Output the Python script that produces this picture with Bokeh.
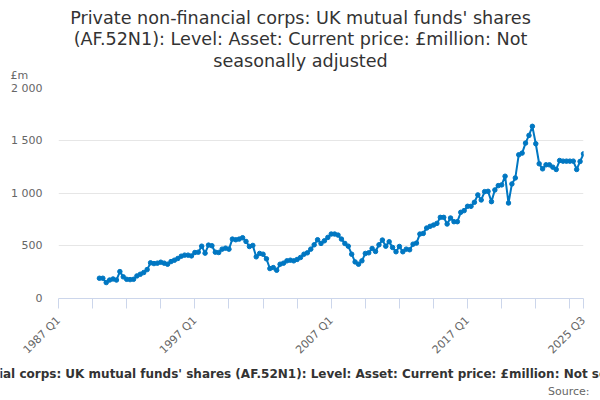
from bokeh.plotting import figure
from bokeh.layouts import column
from bokeh.models import Range1d, FixedTicker, Label, ColumnDataSource
from bokeh.embed import file_html
from bokeh.resources import INLINE
from math import pi

# ---- data ----
title_lines = [
    "Private non-financial corps: UK mutual funds' shares",
    "(AF.52N1): Level: Asset: Current price: £million: Not",
    "seasonally adjusted",
]
footer_text = ("Private non-financial corps: UK mutual funds' shares (AF.52N1): "
               "Level: Asset: Current price: £million: Not seasonally adjusted")
source_text = "Source:"
unit_text = "£m"

first_year = 1987
last_label = "2025 Q3"
data_start = "1990 Q1"

values = [
    192, 192, 151, 175, 185, 175, 255, 205, 182, 179, 182, 214, 230, 246, 274, 338,
    331, 335, 344, 335, 325, 350, 363, 379, 401, 411, 411, 404, 436, 439, 496, 430,
    506, 500, 439, 436, 468, 477, 468, 563, 557, 563, 576, 541, 493, 503, 395, 427,
    420, 376, 284, 293, 268, 325, 335, 357, 363, 357, 370, 389, 420, 433, 468, 509,
    557, 522, 547, 579, 611, 611, 601, 563, 522, 496, 420, 347, 325, 357, 427, 433,
    474, 446, 509, 554, 496, 538, 484, 443, 493, 443, 468, 462, 515, 525, 611, 617,
    668, 684, 696, 712, 769, 769, 706, 763, 728, 728, 817, 833, 874, 874, 912, 982,
    934, 1013, 1016, 918, 1029, 1070, 1077, 1159, 905, 1086, 1143, 1362, 1378, 1473,
    1546, 1632, 1467, 1277, 1229, 1267, 1267, 1245, 1223, 1308, 1302, 1302, 1302,
    1302, 1223, 1299, 1371,
]

y_ticks = [0, 500, 1000, 1500, 2000]
y_tick_labels = ["0", "500", "1 000", "1 500", "2 000"]

quarters = []
y, q = first_year, 1
while True:
    quarters.append(f"{y} Q{q}")
    if quarters[-1] == last_label:
        break
    q += 1
    if q > 4:
        q, y = 1, y + 1
n_q = len(quarters)
start_idx = quarters.index(data_start)
xs = list(range(start_idx, start_idx + len(values)))

x_tick_idx = list(range(0, n_q - 1, 10)) + [n_q - 1]
x_label_idx = [i for i in x_tick_idx if i % 40 == 0] + [n_q - 1]

# ---- layout (pixels) ----
W = 600
TOP_H, MAIN_H, BOT_H = 81, 284, 35
FONT = "DejaVu Sans"
BLUE = "#0077c2"


def no_align(f):
    try:
        f.frame_align = False
    except Exception:
        pass


def text_panel(h):
    f = figure(width=W, height=h, output_backend="svg", toolbar_location=None,
               x_range=Range1d(0, W), y_range=Range1d(h, 0),
               x_axis_location=None, y_axis_location=None,
               min_border=0, min_border_left=0, min_border_right=0,
               min_border_top=0, min_border_bottom=0)
    f.title = None
    f.outline_line_color = None
    f.xgrid.visible = False
    f.ygrid.visible = False
    no_align(f)
    return f


def add_text(f, txt, x, y, size, color, align="center", style="normal"):
    f.add_layout(Label(x=x, y=y, text=txt, text_align=align,
                       text_baseline="middle", text_font=FONT,
                       text_font_size=size, text_color=color,
                       text_font_style=style))


top = text_panel(TOP_H)
for txt, cy in zip(title_lines, [17, 38.5, 60]):
    add_text(top, txt, W / 2, cy, "17.6px", "#333333")
add_text(top, unit_text, 10, 75, "11px", "#666666", align="left")

p = figure(width=W, height=MAIN_H, output_backend="svg", toolbar_location=None,
           x_range=Range1d(0, n_q - 1), y_range=Range1d(0, 2000),
           min_border_left=58, min_border_right=17,
           min_border_top=6, min_border_bottom=MAIN_H - 6 - 211,
           background_fill_color="white", border_fill_color="white")
p.title = None
p.outline_line_color = None
no_align(p)

src = ColumnDataSource(dict(x=xs, y=values))
p.line("x", "y", source=src, line_color=BLUE, line_width=2)
p.scatter("x", "y", source=src, size=4.5, color=BLUE)

p.yaxis.ticker = FixedTicker(ticks=y_ticks)
p.yaxis.major_label_overrides = {t: l for t, l in zip(y_ticks, y_tick_labels)}
p.yaxis.axis_line_color = None
p.yaxis.major_tick_line_color = None
p.yaxis.minor_tick_line_color = None
p.yaxis.major_tick_out = 0
p.yaxis.major_label_standoff = 16
p.yaxis.major_label_text_font = FONT
p.yaxis.major_label_text_font_size = "11px"
p.yaxis.major_label_text_color = "#666666"
p.ygrid.ticker = FixedTicker(ticks=y_ticks)
p.ygrid.grid_line_color = "#e6e6e6"
p.xgrid.visible = False

p.xaxis.ticker = FixedTicker(ticks=x_tick_idx)
p.xaxis.major_label_overrides = {i: (quarters[i] if i in x_label_idx else "") for i in x_tick_idx}
p.xaxis.axis_line_color = "#ccd6eb"
p.xaxis.major_tick_line_color = "#ccd6eb"
p.xaxis.minor_tick_line_color = None
p.xaxis.major_tick_out = 10
p.xaxis.major_tick_in = 0
p.xaxis.major_label_standoff = 10
p.xaxis.major_label_orientation = pi / 4
p.xaxis.major_label_text_font = FONT
p.xaxis.major_label_text_font_size = "11px"
p.xaxis.major_label_text_color = "#666666"

bot = text_panel(BOT_H)
add_text(bot, footer_text, W / 2, 8, "12px", "#333333", style="bold")
add_text(bot, source_text, 589, 26, "11px", "#666666", align="right")

layout = column(top, p, bot, spacing=0)
open("out.html", "w").write(file_html(layout, INLINE))
